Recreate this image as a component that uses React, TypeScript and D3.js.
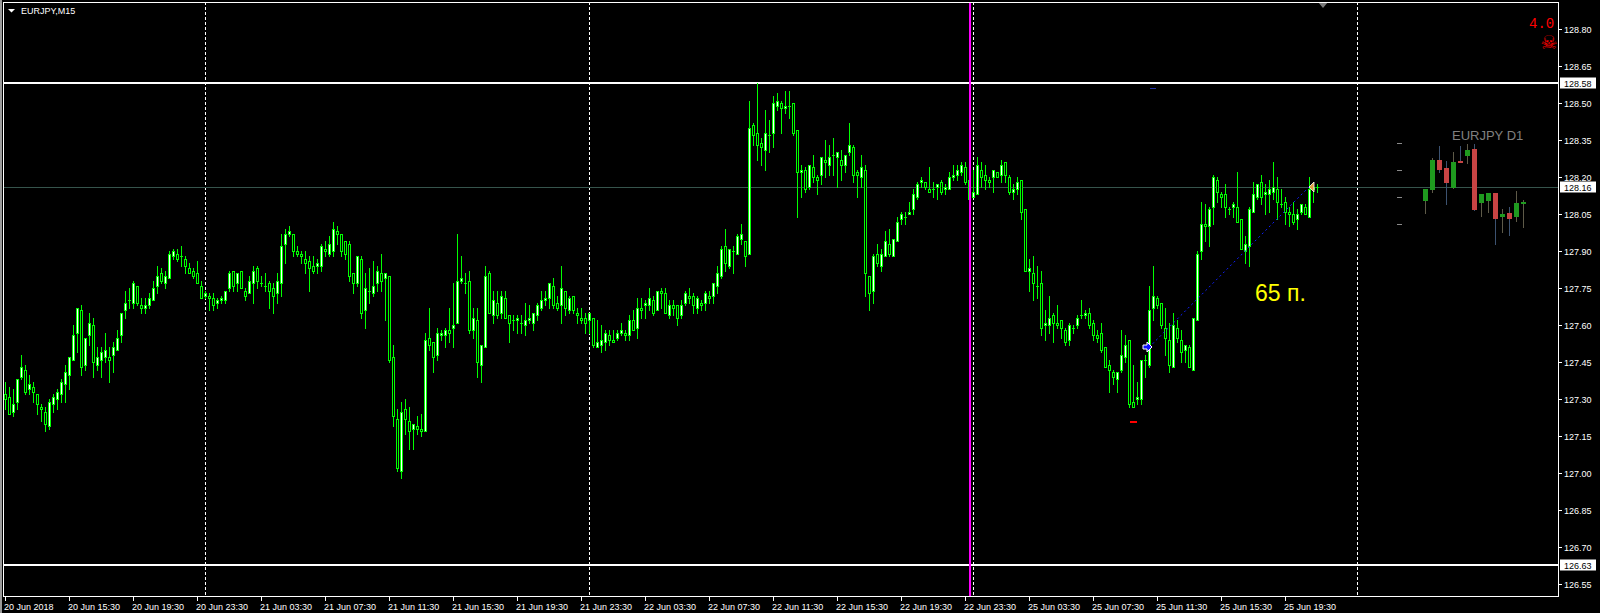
import * as d3 from "d3";

type Bar = [number, number, number, number]; // open, high, low, close

// EURJPY M15, 20 Jun 11:30 -> 23:45
const day20Jun: Bar[] = [
  [127.32,127.37,127.26,127.30],[127.31,127.35,127.24,127.24],[127.25,127.34,127.23,127.28],[127.29,127.38,127.26,127.38],
  [127.39,127.48,127.38,127.43],[127.42,127.44,127.32,127.33],[127.34,127.40,127.32,127.36],[127.35,127.37,127.29,127.33],
  [127.32,127.32,127.24,127.28],[127.27,127.28,127.21,127.26],[127.25,127.27,127.17,127.20],[127.19,127.30,127.18,127.29],
  [127.28,127.32,127.25,127.31],[127.30,127.34,127.26,127.33],[127.32,127.38,127.29,127.37],[127.36,127.44,127.29,127.41],
  [127.40,127.47,127.34,127.47],[127.46,127.60,127.46,127.56],[127.57,127.67,127.49,127.67],[127.66,127.68,127.40,127.43],
  [127.44,127.55,127.42,127.55],[127.56,127.65,127.52,127.61],[127.60,127.63,127.39,127.45],[127.44,127.51,127.42,127.47],
  [127.46,127.51,127.39,127.49],[127.47,127.57,127.45,127.50],[127.47,127.51,127.37,127.46],[127.48,127.53,127.41,127.51],
  [127.50,127.58,127.50,127.55],[127.56,127.65,127.53,127.65],[127.66,127.74,127.63,127.69],[127.70,127.75,127.67,127.70],
  [127.69,127.78,127.67,127.77],[127.76,127.76,127.68,127.69],[127.68,127.71,127.65,127.67],[127.67,127.71,127.65,127.68],
  [127.68,127.73,127.67,127.71],[127.70,127.78,127.70,127.75],[127.76,127.84,127.73,127.80],[127.81,127.83,127.77,127.78],
  [127.77,127.82,127.75,127.80],[127.79,127.90,127.79,127.89],[127.88,127.91,127.87,127.90],[127.89,127.91,127.86,127.87],
  [127.88,127.92,127.84,127.88],[127.87,127.88,127.81,127.84],[127.83,127.85,127.81,127.81],[127.82,127.83,127.79,127.80],
  [127.81,127.86,127.77,127.77],[127.76,127.78,127.71,127.71],
];

const day21Jun: Bar[] = [
  [127.72,127.74,127.71,127.73],[127.72,127.73,127.66,127.71],[127.71,127.73,127.66,127.68],[127.69,127.71,127.67,127.70],
  [127.70,127.72,127.69,127.71],[127.70,127.74,127.69,127.74],[127.75,127.82,127.74,127.81],[127.82,127.82,127.74,127.76],
  [127.77,127.81,127.74,127.81],[127.82,127.82,127.75,127.75],[127.74,127.75,127.70,127.72],[127.73,127.80,127.73,127.78],
  [127.77,127.84,127.69,127.82],[127.83,127.84,127.75,127.78],[127.77,127.80,127.76,127.77],[127.76,127.81,127.74,127.76],
  [127.77,127.78,127.67,127.74],[127.75,127.77,127.65,127.72],[127.73,127.81,127.69,127.78],[127.77,127.97,127.72,127.92],
  [127.93,127.99,127.85,127.97],[127.97,128.00,127.96,127.98],[127.97,127.97,127.88,127.90],[127.90,127.92,127.88,127.89],
  [127.89,127.90,127.85,127.88],[127.87,127.90,127.81,127.85],[127.86,127.88,127.74,127.83],[127.84,127.88,127.81,127.82],
  [127.84,127.87,127.81,127.85],[127.84,127.93,127.82,127.92],[127.91,127.94,127.88,127.90],[127.89,127.96,127.88,127.93],
  [127.90,128.02,127.88,127.99],[127.98,128.00,127.93,127.97],[127.97,127.97,127.88,127.90],[127.94,127.94,127.87,127.89],
  [127.93,127.94,127.78,127.80],[127.81,127.81,127.73,127.77],[127.77,127.88,127.76,127.88],[127.87,127.88,127.63,127.65],
  [127.66,127.81,127.59,127.75],[127.74,127.83,127.69,127.74],[127.73,127.86,127.72,127.76],[127.77,127.84,127.74,127.82],
  [127.81,127.89,127.74,127.78],[127.79,127.81,127.62,127.81],[127.80,127.80,127.45,127.46],[127.47,127.52,127.19,127.23],
  [127.22,127.26,127.01,127.02],[127.01,127.29,126.98,127.25],[127.26,127.30,127.16,127.22],[127.21,127.27,127.10,127.17],
  [127.18,127.20,127.10,127.20],[127.19,127.23,127.16,127.18],[127.18,127.24,127.15,127.17],[127.17,127.57,127.17,127.54],
  [127.55,127.67,127.50,127.52],[127.53,127.53,127.41,127.47],[127.48,127.59,127.46,127.57],[127.56,127.58,127.54,127.57],
  [127.56,127.59,127.51,127.58],[127.58,127.67,127.53,127.57],[127.59,127.77,127.51,127.60],[127.61,127.97,127.61,127.78],
  [127.78,127.88,127.77,127.79],[127.77,127.81,127.73,127.77],[127.78,127.82,127.57,127.58],[127.58,127.67,127.55,127.63],
  [127.62,127.67,127.39,127.45],[127.44,127.52,127.37,127.52],[127.51,127.84,127.51,127.80],[127.81,127.82,127.65,127.65],
  [127.64,127.74,127.61,127.70],[127.69,127.74,127.63,127.64],[127.65,127.74,127.63,127.72],[127.71,127.74,127.63,127.63],
  [127.64,127.64,127.53,127.61],[127.62,127.64,127.58,127.62],[127.62,127.64,127.57,127.63],[127.61,127.64,127.57,127.61],
  [127.60,127.69,127.56,127.62],[127.62,127.68,127.61,127.63],[127.61,127.65,127.58,127.65],[127.64,127.69,127.62,127.68],
  [127.67,127.74,127.66,127.70],[127.70,127.74,127.68,127.71],[127.71,127.77,127.67,127.77],[127.76,127.79,127.67,127.68],
  [127.69,127.72,127.66,127.67],[127.68,127.84,127.61,127.75],[127.74,127.74,127.64,127.67],[127.66,127.72,127.65,127.71],
  [127.72,127.72,127.65,127.66],[127.65,127.67,127.61,127.64],[127.63,127.67,127.61,127.62],[127.63,127.65,127.57,127.61],
];

const day22Jun: Bar[] = [
  [127.62,127.65,127.57,127.65],[127.63,127.63,127.51,127.52],[127.51,127.62,127.51,127.53],[127.52,127.60,127.49,127.54],
  [127.53,127.58,127.50,127.57],[127.56,127.58,127.52,127.54],[127.54,127.58,127.53,127.53],[127.55,127.58,127.54,127.57],
  [127.57,127.61,127.56,127.58],[127.57,127.58,127.54,127.56],[127.56,127.64,127.54,127.62],[127.62,127.66,127.58,127.58],
  [127.59,127.71,127.55,127.67],[127.67,127.71,127.63,127.66],[127.68,127.70,127.63,127.69],[127.68,127.75,127.66,127.71],
  [127.70,127.72,127.64,127.65],[127.66,127.74,127.66,127.74],[127.74,127.75,127.67,127.73],[127.73,127.75,127.65,127.65],
  [127.64,127.70,127.63,127.68],[127.68,127.70,127.64,127.67],[127.68,127.68,127.60,127.63],[127.64,127.70,127.63,127.68],
  [127.69,127.74,127.68,127.73],[127.72,127.75,127.69,127.71],[127.72,127.73,127.65,127.68],[127.67,127.72,127.65,127.71],
  [127.69,127.70,127.66,127.68],[127.69,127.74,127.66,127.73],[127.72,127.74,127.69,127.71],[127.72,127.77,127.69,127.77],
  [127.76,127.84,127.73,127.81],[127.80,127.92,127.79,127.91],[127.92,127.99,127.82,127.85],[127.84,127.91,127.83,127.91],
  [127.90,127.92,127.81,127.90],[127.89,127.97,127.89,127.96],[127.95,128.01,127.93,127.97],[127.94,127.94,127.84,127.88],
  [127.89,128.51,127.89,128.40],[128.41,128.42,128.33,128.37],[128.38,128.58,128.27,128.33],[128.34,128.36,128.25,128.32],
  [128.31,128.47,128.23,128.38],[128.37,128.43,128.30,128.37],[128.38,128.53,128.32,128.50],[128.49,128.54,128.47,128.51],
  [128.50,128.51,128.38,128.48],[128.48,128.55,128.46,128.49],[128.49,128.55,128.44,128.49],[128.50,128.50,128.37,128.38],
  [128.39,128.39,128.04,128.22],[128.22,128.25,128.12,128.23],[128.23,128.24,128.14,128.15],[128.16,128.25,128.15,128.25],
  [128.24,128.29,128.18,128.20],[128.20,128.21,128.13,128.19],[128.21,128.28,128.17,128.28],[128.27,128.35,128.20,128.26],
  [128.25,128.33,128.21,128.28],[128.29,128.36,128.21,128.29],[128.28,128.30,128.16,128.30],[128.27,128.31,128.19,128.25],
  [128.25,128.29,128.22,128.29],[128.30,128.42,128.29,128.33],[128.32,128.33,128.18,128.21],[128.22,128.23,128.12,128.21],
  [128.20,128.29,128.16,128.24],[128.23,128.25,127.72,127.81],[127.80,127.80,127.66,127.73],[127.74,127.89,127.69,127.88],
  [127.89,127.93,127.84,127.85],[127.84,127.91,127.82,127.89],[127.88,127.98,127.88,127.94],[127.93,127.99,127.88,127.89],
  [127.88,127.95,127.88,127.95],[127.94,128.04,127.94,128.02],[128.03,128.06,128.01,128.05],[128.04,128.06,128.01,128.04],
  [128.05,128.10,128.05,128.06],[128.07,128.15,128.05,128.13],[128.12,128.18,128.11,128.17],[128.18,128.20,128.16,128.19],
  [128.18,128.18,128.15,128.16],[128.15,128.24,128.14,128.14],[128.15,128.18,128.12,128.15],[128.16,128.17,128.11,128.17],
  [128.18,128.19,128.13,128.14],[128.15,128.17,128.13,128.16],[128.15,128.22,128.15,128.20],[128.20,128.25,128.19,128.21],
  [128.21,128.25,128.19,128.23],[128.22,128.26,128.21,128.25],[128.24,128.26,128.17,128.18],[128.19,128.23,128.10,128.11],
];

// Monday 25 Jun 00:00 -> 21:30
const day25Jun: Bar[] = [
  [128.12,128.23,128.12,128.14],[128.13,128.28,128.13,128.25],[128.23,128.26,128.16,128.20],[128.21,128.25,128.15,128.19],
  [128.19,128.20,128.16,128.18],[128.20,128.23,128.14,128.23],[128.22,128.22,128.20,128.20],[128.21,128.27,128.18,128.25],
  [128.26,128.26,128.18,128.21],[128.20,128.21,128.13,128.14],[128.14,128.17,128.11,128.15],[128.15,128.20,128.13,128.18],
  [128.19,128.19,128.03,128.06],[128.07,128.07,127.82,127.82],[127.82,127.87,127.74,127.83],[127.81,127.88,127.70,127.77],
  [127.76,127.84,127.71,127.76],[127.77,127.82,127.56,127.59],[127.60,127.66,127.54,127.61],[127.60,127.72,127.57,127.63],
  [127.64,127.65,127.53,127.61],[127.61,127.68,127.59,127.60],[127.62,127.62,127.55,127.59],[127.58,127.59,127.52,127.53],
  [127.54,127.61,127.52,127.60],[127.59,127.60,127.57,127.59],[127.60,127.64,127.59,127.63],[127.64,127.70,127.63,127.64],
  [127.64,127.66,127.63,127.65],[127.65,127.67,127.59,127.60],[127.61,127.62,127.54,127.56],[127.56,127.58,127.53,127.55],
  [127.57,127.61,127.49,127.50],[127.51,127.51,127.43,127.43],[127.44,127.46,127.33,127.42],[127.41,127.42,127.36,127.39],
  [127.38,127.41,127.33,127.41],[127.42,127.58,127.41,127.48],[127.47,127.56,127.45,127.52],[127.54,127.54,127.27,127.28],
  [127.29,127.44,127.27,127.27],[127.30,127.37,127.28,127.31],[127.30,127.46,127.28,127.46],[127.46,127.48,127.39,127.46],
  [127.44,127.76,127.43,127.66],[127.67,127.84,127.62,127.72],[127.71,127.72,127.67,127.68],[127.69,127.69,127.59,127.60],
  [127.59,127.67,127.48,127.55],[127.54,127.61,127.41,127.44],[127.43,127.65,127.43,127.60],[127.59,127.62,127.53,127.55],
  [127.54,127.58,127.45,127.49],[127.50,127.52,127.45,127.52],[127.51,127.52,127.43,127.43],[127.42,127.63,127.42,127.63],
  [127.62,127.90,127.62,127.89],[127.90,128.10,127.87,128.01],[128.01,128.09,127.94,128.00],[128.00,128.08,127.92,128.07],
  [128.08,128.21,128.01,128.20],[128.19,128.20,128.10,128.14],[128.13,128.14,128.08,128.12],[128.13,128.17,128.04,128.08],
  [128.07,128.08,128.05,128.07],[128.08,128.10,128.04,128.09],[128.08,128.22,128.02,128.02],[128.03,128.03,127.91,127.91],
  [127.90,127.96,127.85,127.93],[127.92,128.08,127.84,128.07],[128.06,128.18,128.06,128.13],[128.12,128.17,128.11,128.17],
  [128.18,128.21,128.09,128.12],[128.13,128.17,128.05,128.14],[128.13,128.19,128.06,128.15],[128.14,128.26,128.11,128.16],
  [128.15,128.20,128.03,128.10],[128.09,128.15,128.08,128.09],[128.10,128.12,128.01,128.06],[128.06,128.08,128.00,128.05],
  [128.05,128.10,128.01,128.02],[128.03,128.07,127.99,128.05],[128.06,128.09,128.05,128.09],[128.08,128.09,128.05,128.05],
  [128.04,128.20,128.04,128.15],[128.16,128.17,128.10,128.15],[128.16,128.17,128.14,128.16],
];

const bars: Bar[] = [...day20Jun, ...day21Jun, ...day22Jun, ...day25Jun];

// one label every 16 bars, starting at bar 0
const timeLabels = [
  "20 Jun 2018", "20 Jun 15:30", "20 Jun 19:30", "20 Jun 23:30", "21 Jun 03:30", "21 Jun 07:30",
  "21 Jun 11:30", "21 Jun 15:30", "21 Jun 19:30", "21 Jun 23:30", "22 Jun 03:30", "22 Jun 07:30",
  "22 Jun 11:30", "22 Jun 15:30", "22 Jun 19:30", "22 Jun 23:30", "25 Jun 03:30", "25 Jun 07:30",
  "25 Jun 11:30", "25 Jun 15:30", "25 Jun 19:30",
];
const labelStep = 16;

const priceTicks = [
  126.55, 126.70, 126.85, 127.00, 127.15, 127.30, 127.45, 127.60,
  127.75, 127.90, 128.05, 128.20, 128.35, 128.50, 128.65, 128.80,
];

const daySeparators = [50, 146, 242, 338]; // bar index of each midnight
const levelLines = [128.58, 126.63];
const bidPrice = 128.16;
const markerBar = 241; // magenta vertical line
const trendFrom = { bar: 286, price: 127.51 };
const trendTo = { bar: 326, price: 128.16 };
const lowMark = { bar: 282, price: 127.21 };
const topMark = { bar: 287, price: 128.56 };

// D1 mini panel (own scale)
const d1Levels = [130, 129, 128, 127];
const d1Candles: Bar[] = [
  [127.85,128.30,127.37,128.30],[128.26,129.44,128.15,129.37],[129.37,129.89,128.89,129.00],
  [129.07,129.33,127.70,128.52],[128.33,129.67,128.30,129.30],[129.33,129.89,129.26,129.26],
  [129.52,129.96,129.22,129.74],[129.78,129.96,127.50,127.52],[127.78,128.11,127.26,128.11],
  [127.85,128.15,127.41,128.15],[128.15,128.15,126.22,127.19],[127.26,127.56,126.67,127.37],
  [127.41,127.63,126.56,127.19],[127.26,128.22,127.07,127.78],[127.78,127.89,126.85,127.81],
];

const FONT = "'Liberation Sans', Arial, sans-serif";
const LIME = "#00ff00";
const frame = { left: 3, top: 2, right: 1558, bottom: 596 };

export default function App() {
  const x = d3.scaleLinear().domain([0, 1]).range([5, 9]);
  const y = d3.scaleLinear().domain([126.55, 128.8]).range([584.3, 29]);
  const py = (p: number) => Math.round(y(p));
  const px = (i: number) => Math.round(x(i));

  const mx = d3.scaleLinear().domain([0, 1]).range([1423, 1430]);
  const my = d3.scaleLinear().domain([127, 130]).range([224, 143]);

  const chartH = frame.bottom - frame.top;

  return (
    <svg width={1600} height={613} style={{ position: "fixed", left: 0, top: 0, background: "#000" }}>
      <rect width={1600} height={613} fill="#000" />
      <rect x={0} y={0} width={2} height={613} fill="#9a9a9a" />

      {/* day separators */}
      {daySeparators.map((b) => (
        <line key={b} x1={px(b) + 0.5} x2={px(b) + 0.5} y1={frame.top} y2={frame.bottom}
          stroke="#fff" strokeDasharray="3,2" />
      ))}

      {/* bid line */}
      <line x1={frame.left} x2={frame.right} y1={py(bidPrice) + 0.5} y2={py(bidPrice) + 0.5} stroke="#36544c" />

      {/* level lines */}
      {levelLines.map((p) => (
        <rect key={p} x={frame.left} width={frame.right - frame.left} y={py(p) - 1} height={2} fill="#fff" />
      ))}

      {/* candles */}
      {bars.map(([o, h, l, c], i) => {
        const xi = px(i);
        const hi = Math.max(h, o, c), lo = Math.min(l, o, c);
        const top = py(Math.max(o, c)), bot = py(Math.min(o, c));
        const bodyH = bot - top;
        return (
          <g key={i}>
            <rect x={xi} width={1} y={py(hi)} height={py(lo) - py(hi) + 1} fill={LIME} />
            <rect x={xi - 1} width={3} y={top} height={Math.max(1, bodyH + 1)} fill={LIME} />
            {bodyH >= 2 && (
              <rect x={xi} width={1} y={top + 1} height={bodyH - 1} fill={c >= o ? "#fff" : "#000"} />
            )}
          </g>
        );
      })}

      {/* magenta vertical */}
      <rect x={px(markerBar)} width={2} y={frame.top} height={chartH} fill="#ff00ff" />

      {/* trend line + markers */}
      <line x1={x(trendFrom.bar)} y1={y(trendFrom.price)} x2={x(trendTo.bar)} y2={y(trendTo.price)}
        stroke="#1020ff" strokeDasharray="2,3" />
      <path
        transform={`translate(${x(trendFrom.bar) - 2},${py(trendFrom.price)})`}
        d="M-4,-2 L0,-2 L0,-5 L5,0 L0,5 L0,2 L-4,2 Z"
        fill="#1010ff" stroke="#fff" strokeWidth={1}
      />
      <path
        transform={`translate(${x(trendTo.bar)},${py(trendTo.price)})`}
        d="M0,0 L5,-5 L5,5 Z"
        fill="#e0a040" stroke="#fff" strokeWidth={0.8}
      />
      <rect x={px(lowMark.bar) - 3} width={7} y={py(lowMark.price)} height={2} fill="#ff0000" />
      <rect x={px(topMark.bar) - 3} width={6} y={py(topMark.price)} height={1} fill="#2030a0" />
      <text x={1255} y={301} fill="#ffff00" fontFamily={FONT} fontSize={23}>65 п.</text>

      {/* D1 panel */}
      <text x={1452} y={140} fill="#808080" fontFamily={FONT} fontSize={13}>EURJPY D1</text>
      {d1Levels.map((p) => (
        <rect key={p} x={1397} width={5} y={Math.round(my(p))} height={1} fill="#8a8a8a" />
      ))}
      {d1Candles.map(([o, h, l, c], i) => {
        const up = c >= o;
        const cx = Math.round(mx(i));
        const top = Math.round(my(Math.max(o, c)));
        const bot = Math.round(my(Math.min(o, c)));
        return (
          <g key={i}>
            <rect x={cx + 2} width={1} y={Math.round(my(h))} height={Math.round(my(l)) - Math.round(my(h))}
              fill={up ? "#5e5a48" : "#3c5270"} />
            <rect x={cx} width={5} y={top} height={Math.max(2, bot - top)} fill={up ? "#1f9a1f" : "#c84444"} />
          </g>
        );
      })}

      {/* top right indicator */}
      <text x={1529} y={28} fill="#ff0000" fontFamily="'Liberation Mono', monospace" fontSize={14}>4.0</text>
      <text x={1549} y={49} fill="#ff0000" fontFamily="'DejaVu Sans', sans-serif" fontSize={19} textAnchor="middle">☠</text>
      <path d="M1318,2 L1328,2 L1323,8 Z" fill="#7a7a7a" />

      {/* frame */}
      <rect x={frame.left + 0.5} y={frame.top + 0.5} width={frame.right - frame.left} height={frame.bottom - frame.top}
        fill="none" stroke="#fff" />

      {/* title */}
      <path d="M8,9 L15,9 L11.5,12.5 Z" fill="#fff" />
      <text x={21} y={14} fill="#fff" fontFamily={FONT} fontSize={9}>EURJPY,M15</text>

      {/* price axis */}
      {priceTicks.map((p) => (
        <g key={p}>
          <rect x={frame.right + 1} width={3} y={py(p)} height={1} fill="#fff" />
          <text x={1564} y={py(p) + 3.5} fill="#fff" fontFamily={FONT} fontSize={9}>{p.toFixed(2)}</text>
        </g>
      ))}
      {[...levelLines, bidPrice].map((p) => (
        <g key={"lb" + p}>
          <rect x={1560} width={36} y={py(p) - 5.5} height={11} fill="#fff" />
          <text x={1564} y={py(p) + 3.5} fill="#000" fontFamily={FONT} fontSize={9}>{p.toFixed(2)}</text>
        </g>
      ))}

      {/* time axis */}
      {timeLabels.map((t, k) => {
        const tx = px(k * labelStep);
        return (
          <g key={t}>
            <rect x={tx} width={1} y={frame.bottom + 1} height={4} fill="#fff" />
            <text x={tx - 1} y={610} fill="#fff" fontFamily={FONT} fontSize={9}>{t}</text>
          </g>
        );
      })}
    </svg>
  );
}
